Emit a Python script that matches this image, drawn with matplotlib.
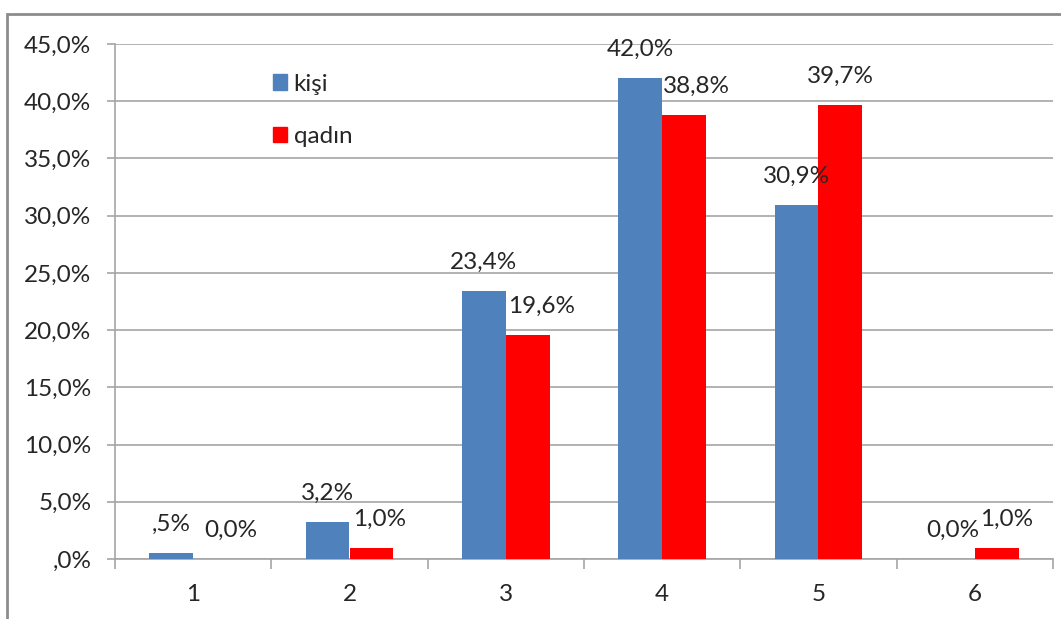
import numpy as np
import matplotlib
matplotlib.use("Agg")
import matplotlib.pyplot as plt
from matplotlib.patches import Patch, Rectangle
from matplotlib.ticker import FixedLocator, FuncFormatter

plt.rcParams['font.family'] = ['Lato', 'DejaVu Sans']

# survey shares (%) per answer group
groups = ['1', '2', '3', '4', '5', '6']
kisi = [0.5, 3.2, 23.4, 42.0, 30.9, 0.0]
qadin = [0.0, 1.0, 19.6, 38.8, 39.7, 1.0]
series_names = ['kişi', 'qadın']

# small sideways nudges (px) for the red value labels, so they clear the blue ones
red_label_dx = [16, 8, 14, 12, 0, 10]

BLUE = '#4F81BD'
RED = '#FF0000'
TXT = '#262626'
GRID = '#A6A6A6'
FS = 17.5


def pct(v):
    if v == 0:
        return '0,0%'
    s = f"{v:.1f}".replace('.', ',')
    if v < 1:
        s = s[1:]  # ",5" like the spreadsheet shows it
    return s + '%'


fig = plt.figure(figsize=(10.61, 6.19), dpi=100)
ax = fig.add_axes([115 / 1061, 1 - 559 / 619, (1053 - 115) / 1061, (559 - 44) / 619])

# outer chart frame
fig.patches.append(Rectangle((7 / 1061, -0.1), 1.2, 1.1 - 14 / 619, transform=fig.transFigure,
                             fill=False, edgecolor='#8C8C8C', linewidth=2, zorder=0))

x = np.arange(1, len(groups) + 1)
w = 0.28
b1 = ax.bar(x - w / 2, kisi, w, color=BLUE, zorder=3)
b2 = ax.bar(x + w / 2, qadin, w, color=RED, zorder=3)

for r, v in zip(b1, kisi):
    ax.annotate(pct(v), (r.get_x() + r.get_width() / 2, v),
                xytext=(0, 13), textcoords='offset points', ha='center', va='bottom',
                fontsize=FS, color=TXT, zorder=5)
for i, (r, v) in enumerate(zip(b2, qadin)):
    ax.annotate(pct(v), (r.get_x() + r.get_width() / 2, v),
                xytext=(red_label_dx[i] * 0.72, 13), textcoords='offset points',
                ha='center', va='bottom', fontsize=FS, color=TXT, zorder=5)

ax.set_xlim(0.5, len(groups) + 0.5)
ax.set_ylim(0, 45)
ax.set_yticks(np.arange(0, 46, 5))
ax.yaxis.set_major_formatter(FuncFormatter(lambda v, p: ',0%' if v == 0 else f"{v:.1f}".replace('.', ',') + '%'))
ax.set_xticks(x)
ax.set_xticklabels(groups)
ax.xaxis.set_minor_locator(FixedLocator(np.arange(0.5, len(groups) + 1, 1)))

ax.grid(axis='y', color=GRID, linewidth=1.2, zorder=0)
ax.set_axisbelow(True)
for s in ['top', 'right']:
    ax.spines[s].set_visible(False)
for s in ['left', 'bottom']:
    ax.spines[s].set_color(GRID)
    ax.spines[s].set_linewidth(1.2)

ax.tick_params(axis='y', length=6, width=1.2, color=GRID, pad=11, labelsize=FS, labelcolor=TXT)
ax.tick_params(axis='x', which='major', length=0, pad=18, labelsize=FS, labelcolor=TXT)
ax.tick_params(axis='x', which='minor', length=7, width=1.2, color=GRID)

handles = [Patch(color=BLUE), Patch(color=RED)]
ax.legend(handles, series_names, loc='upper left', bbox_to_anchor=(0.145, 0.985), frameon=False,
          fontsize=FS, handlelength=0.6, handleheight=0.6, handletextpad=0.25,
          labelspacing=1.3, labelcolor=TXT)

fig.savefig('out.png', dpi=100)
